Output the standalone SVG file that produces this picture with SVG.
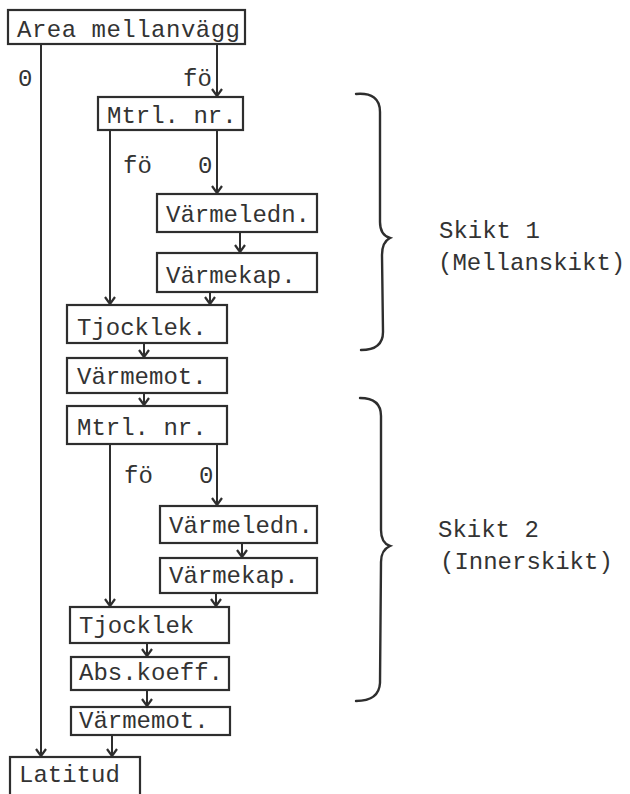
<svg xmlns="http://www.w3.org/2000/svg" width="630" height="794" viewBox="0 0 630 794">
<style>
.box{fill:none;stroke:#2e2e2e;stroke-width:2.2}
.t{font-family:"Liberation Mono","Courier New",monospace;font-size:24px;fill:#333}
.c{fill:none;stroke:#2e2e2e;stroke-width:2}
.br{fill:none;stroke:#2e2e2e;stroke-width:2.4;stroke-linecap:round}
</style>
<defs>
<marker id="ah" viewBox="-8 -6 9 12" markerWidth="9" markerHeight="12" refX="0" refY="0" orient="auto" markerUnits="userSpaceOnUse">
<path d="M-7,-5 L0,0 L-7,5" fill="none" stroke="#2e2e2e" stroke-width="2.2"/>
</marker>
</defs>
<rect width="630" height="794" fill="#ffffff"/>

<g id="connectors">
<line class="c" x1="41" y1="44" x2="41" y2="756" marker-end="url(#ah)"/>
<line class="c" x1="217" y1="44" x2="217" y2="96" marker-end="url(#ah)"/>
<line class="c" x1="110" y1="130" x2="110" y2="304" marker-end="url(#ah)"/>
<line class="c" x1="217" y1="130" x2="217" y2="193" marker-end="url(#ah)"/>
<line class="c" x1="240" y1="232" x2="240" y2="252" marker-end="url(#ah)"/>
<line class="c" x1="210" y1="292" x2="210" y2="304" marker-end="url(#ah)"/>
<line class="c" x1="144" y1="343" x2="144" y2="357" marker-end="url(#ah)"/>
<line class="c" x1="144" y1="393" x2="144" y2="405" marker-end="url(#ah)"/>
<line class="c" x1="110" y1="444" x2="110" y2="606" marker-end="url(#ah)"/>
<line class="c" x1="217" y1="444" x2="217" y2="505" marker-end="url(#ah)"/>
<line class="c" x1="242" y1="543" x2="242" y2="557" marker-end="url(#ah)"/>
<line class="c" x1="216" y1="593" x2="216" y2="606" marker-end="url(#ah)"/>
<line class="c" x1="147" y1="643" x2="147" y2="656" marker-end="url(#ah)"/>
<line class="c" x1="147" y1="690" x2="147" y2="706" marker-end="url(#ah)"/>
<line class="c" x1="112" y1="735" x2="112" y2="756" marker-end="url(#ah)"/>
<text class="t" x="18" y="86">0</text>
<text class="t" x="183" y="86">fö</text>
<text class="t" x="123" y="173">fö</text>
<text class="t" x="198" y="173">0</text>
<text class="t" x="124" y="483">fö</text>
<text class="t" x="199" y="483">0</text>
</g>

<g id="n_area"><rect class="box" x="8" y="10" width="237" height="34"/><text class="t" x="17" y="37" textLength="223">Area mellanvägg</text></g>
<g id="n_mtrl1"><rect class="box" x="98" y="97" width="145" height="33"/><text class="t" x="107" y="123">Mtrl. nr.</text></g>
<g id="n_varmeledn1"><rect class="box" x="157" y="194" width="160" height="38"/><text class="t" x="166" y="222">Värmeledn.</text></g>
<g id="n_varmekap1"><rect class="box" x="157" y="253" width="160" height="39"/><text class="t" x="166" y="283">Värmekap.</text></g>
<g id="n_tjocklek1"><rect class="box" x="67" y="305" width="160" height="38"/><text class="t" x="77" y="335">Tjocklek.</text></g>
<g id="n_varmemot1"><rect class="box" x="67" y="358" width="160" height="35"/><text class="t" x="77" y="384">Värmemot.</text></g>
<g id="n_mtrl2"><rect class="box" x="67" y="406" width="160" height="38"/><text class="t" x="77" y="435">Mtrl. nr.</text></g>
<g id="n_varmeledn2"><rect class="box" x="160" y="506" width="157" height="37"/><text class="t" x="169" y="533">Värmeledn.</text></g>
<g id="n_varmekap2"><rect class="box" x="160" y="558" width="157" height="35"/><text class="t" x="169" y="583">Värmekap.</text></g>
<g id="n_tjocklek2"><rect class="box" x="70" y="607" width="159" height="36"/><text class="t" x="79" y="633">Tjocklek</text></g>
<g id="n_abs"><rect class="box" x="71" y="657" width="158" height="33"/><text class="t" x="79" y="680">Abs.koeff.</text></g>
<g id="n_varmemot2"><rect class="box" x="71" y="707" width="159" height="28"/><text class="t" x="79" y="728">Värmemot.</text></g>
<g id="n_latitud"><rect class="box" x="10" y="757" width="130" height="44"/><text class="t" x="19" y="782">Latitud</text></g>

<g id="skikt1">
<path class="br" d="M356,94 Q380,92 380,112 L380,222 Q380,235 390,238 Q382,242 382,255 L383,332 Q383,350 361,350"/>
<text class="t" x="439" y="238">Skikt 1</text>
<text class="t" x="438" y="270">(Mellanskikt)</text>
</g>
<g id="skikt2">
<path class="br" d="M360,398 Q381,398 381,416 L381,530 Q381,543 390,546 Q381,550 381,562 L380,683 Q379,701 356,701"/>
<text class="t" x="438" y="537">Skikt 2</text>
<text class="t" x="440" y="569">(Innerskikt)</text>
</g>
</svg>
